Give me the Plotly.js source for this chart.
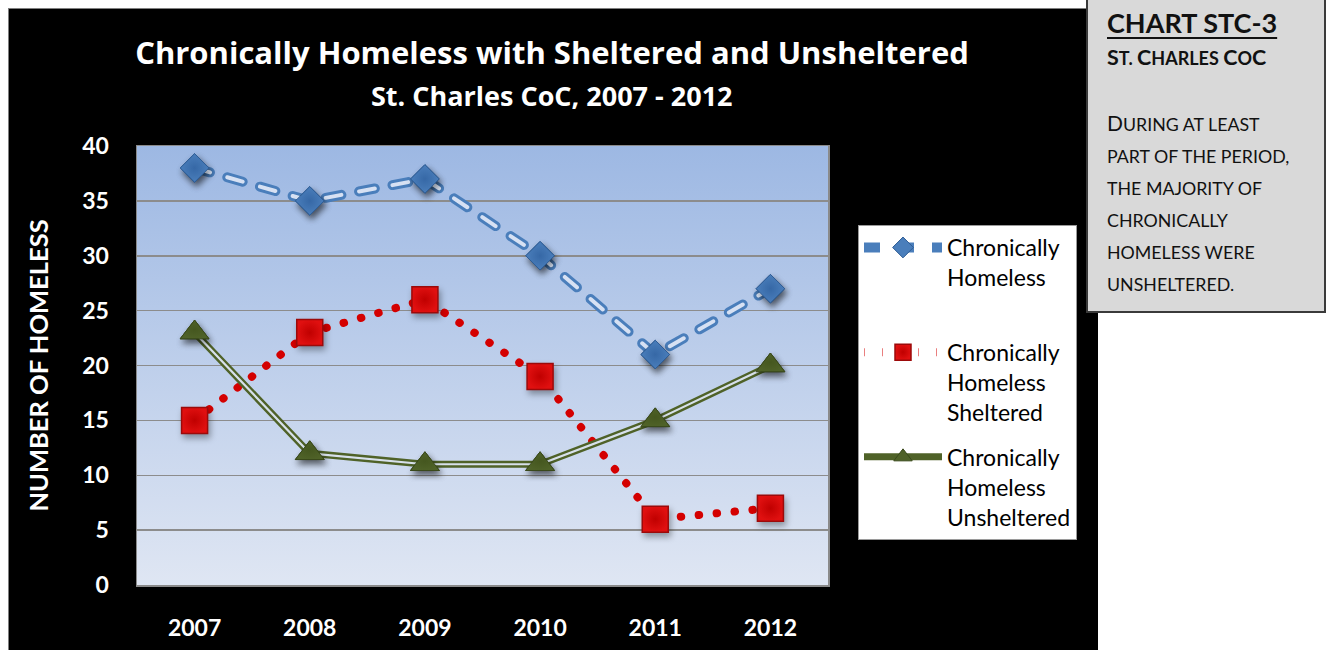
<!DOCTYPE html>
<html>
<head>
<meta charset="utf-8">
<script src="https://cdn.plot.ly/plotly-3.0.1.min.js"></script>
<style>
  html, body { margin: 0; padding: 0; background: #ffffff; }
  body { width: 1328px; height: 650px; position: relative; overflow: hidden; }
  #blackbg { position: absolute; left: 8px; top: 8px; width: 1090px; height: 642px; background: #000; border-top: 1px solid #7f7f7f; border-left: 1px solid #7f7f7f; box-sizing: border-box; }
  #chart { position: absolute; left: 0; top: 0; width: 1328px; height: 650px; }
  #note { position: absolute; left: 1086px; top: -3px; width: 240px; height: 316px; box-sizing: border-box;
          background: #d9d9d9; border: 2px solid #3a3a3a; font-family: Lato, "Open Sans", sans-serif; color: #111; padding: 8px 0 0 19px; }
  #note .h1 { font-weight: bold; font-size: 27px; text-decoration: underline; text-underline-offset: 4px; text-decoration-thickness: 2px; line-height: 32px; }
  #note .h2 { font-weight: bold; font-size: 18px; line-height: 28px; margin-top: 4px; }
  #note .h2 .b { font-size: 21.5px; }
  #note .body { font-size: 17.8px; line-height: 32px; margin-top: 35px; }
  #note .body .b { font-size: 21px; }
  .scatterlayer .js-line { stroke-linecap: round; stroke-linejoin: round; }
  .scatterlayer .points path { filter: drop-shadow(2px 4px 3px rgba(0,0,0,0.35)); }
</style>
</head>
<body>
<div id="blackbg"></div>
<div id="chart"></div>
<div id="note">
  <div class="h1">CHART STC-3</div>
  <div class="h2"><span class="b">S</span>T. <span class="b">C</span>HARLES <span class="b">C</span>O<span class="b">C</span></div>
  <div class="body"><span class="b">D</span>URING AT LEAST<br>PART OF THE PERIOD,<br>THE MAJORITY OF<br>CHRONICALLY<br>HOMELESS WERE<br>UNSHELTERED.</div>
</div>
<script>
// ---- data ----
const years = ["2007", "2008", "2009", "2010", "2011", "2012"];
const chronicallyHomeless = [38, 35, 37, 30, 21, 27];
const sheltered = [15, 23, 26, 19, 6, 7];
const unsheltered = [23, 12, 11, 11, 15, 20];
const seriesNames = ["Chronically<br>Homeless<br>\u00A0", "Chronically<br>Homeless<br>Sheltered", "Chronically<br>Homeless<br>Unsheltered"];
const yTicks = [0, 5, 10, 15, 20, 25, 30, 35, 40];
const chartTitle = "Chronically Homeless with Sheltered and Unsheltered";
const chartSubtitle = "St. Charles CoC, 2007 - 2012";
const yTitle = "NUMBER OF HOMELESS";

const blue = '#4a7ebb', blueDark = '#2f5d95';
const red = '#e01010', redDark = '#9c0a0a';
const green = '#4f6228', greenDark = '#3a4a1c';
const innerLight = 'rgba(222,231,246,0.95)';

const traces = [
  // Chronically Homeless (double-outline dashed line)
  { x: years, y: chronicallyHomeless, name: seriesNames[0], mode: 'lines+markers', legendgroup: 'a',
    line: { color: blue, width: 10, dash: '16px,18px' },
    marker: { symbol: 'diamond', size: 22, color: blue, line: { color: blueDark, width: 1 } } },
  { x: years, y: chronicallyHomeless, mode: 'lines', showlegend: false, hoverinfo: 'skip',
    line: { color: innerLight, width: 4, dash: '16px,18px' } },
  { x: years, y: chronicallyHomeless, mode: 'markers', showlegend: false,
    marker: { symbol: 'diamond', size: 22, color: blue, line: { color: blueDark, width: 1 },
              gradient: { type: 'radial', color: '#3668a6' } } },

  // Sheltered (round dotted line)
  { x: years, y: sheltered, name: seriesNames[1], mode: 'lines+markers', legendgroup: 'b',
    line: { color: '#d40000', width: 8, dash: '0.5px,17.5px' },
    marker: { symbol: 'square', size: 26, color: red, line: { color: redDark, width: 1.5 },
              gradient: { type: 'radial', color: '#c00000' } } },

  // Unsheltered (double solid line)
  { x: years, y: unsheltered, name: seriesNames[2], mode: 'lines+markers', legendgroup: 'c',
    line: { color: green, width: 7 },
    marker: { symbol: 'triangle-up', size: 25, color: green, line: { color: greenDark, width: 1 } } },
  { x: years, y: unsheltered, mode: 'lines', showlegend: false, hoverinfo: 'skip',
    line: { color: innerLight, width: 2.2 } },
  { x: years, y: unsheltered, mode: 'markers', showlegend: false,
    marker: { symbol: 'triangle-up', size: 25, color: green, line: { color: greenDark, width: 1 },
              gradient: { type: 'radial', color: '#45571f' } } }
];

const gradSvg = "<svg xmlns='http://www.w3.org/2000/svg' width='100' height='100' preserveAspectRatio='none'>" +
  "<defs><linearGradient id='g' x1='0' y1='0' x2='0' y2='1'>" +
  "<stop offset='0' stop-color='#9db8e3'/><stop offset='1' stop-color='#dfe6f3'/></linearGradient></defs>" +
  "<rect width='100' height='100' fill='url(#g)'/></svg>";

const PL = 137, PR = 828, PT = 146, PB = 585;
const layout = {
  width: 1328, height: 650,
  margin: { l: PL, r: 1328 - PR, t: PT, b: 650 - PB },
  paper_bgcolor: 'rgba(0,0,0,0)',
  plot_bgcolor: '#c4d3ec',
  font: { family: 'Lato, "Open Sans", sans-serif', color: '#ffffff' },
  title: {
    text: '<b>' + chartTitle + '</b>',
    font: { size: 31, color: '#ffffff', family: '"Open Sans", Lato, sans-serif' },
    x: 552 / 1328, xref: 'container', xanchor: 'center',
    y: 1 - 53 / 650, yref: 'container', yanchor: 'middle'
  },
  annotations: [{
    text: '<b>' + chartSubtitle + '</b>', showarrow: false,
    xref: 'paper', yref: 'paper',
    x: (552 - PL) / (PR - PL), y: (PB - 95) / (PB - PT),
    xanchor: 'center', yanchor: 'middle',
    font: { size: 27, color: '#ffffff', family: '"Open Sans", Lato, sans-serif' }
  }],
  images: [{
    source: 'data:image/svg+xml;charset=utf-8,' + encodeURIComponent(gradSvg),
    xref: 'paper', yref: 'paper', x: 0, y: 1, sizex: 1, sizey: 1,
    sizing: 'stretch', layer: 'below'
  }],
  xaxis: {
    type: 'category', range: [-0.5, 5.5],
    showgrid: false, zeroline: false,
    showline: true, linecolor: '#8a8a8a', linewidth: 1.5, mirror: true,
    ticks: 'outside', ticklen: 22, tickcolor: 'rgba(0,0,0,0)',
    tickfont: { size: 23, color: '#ffffff', family: 'Lato, "Open Sans", sans-serif', weight: 'bold' }
  },
  yaxis: {
    range: [0, 40], tickvals: yTicks, ticktext: yTicks.map(String),
    showgrid: true, gridcolor: '#8c8c8c', gridwidth: 1.5, zeroline: false,
    showline: true, linecolor: '#8a8a8a', linewidth: 1.5, mirror: true,
    ticks: 'outside', ticklen: 22, tickcolor: 'rgba(0,0,0,0)',
    tickfont: { size: 23, color: '#ffffff', family: 'Lato, "Open Sans", sans-serif', weight: 'bold' },
    title: { text: '<b>' + yTitle + '</b>', standoff: 26,
             font: { size: 25.5, color: '#ffffff', family: 'Lato, "Open Sans", sans-serif' } }
  },
  legend: {
    x: (858 - PL) / (PR - PL), xanchor: 'left',
    y: (PB - 225) / (PB - PT), yanchor: 'top',
    bgcolor: '#ffffff', bordercolor: '#9a9a9a', borderwidth: 1,
    font: { size: 23, color: '#000000', family: 'Lato, "Open Sans", sans-serif' },
    tracegroupgap: 12, valign: 'top', itemwidth: 78,
    traceorder: 'grouped'
  },
  showlegend: true
};

Plotly.newPlot('chart', traces, layout, { staticPlot: true, displayModeBar: false });
</script>
</body>
</html>
